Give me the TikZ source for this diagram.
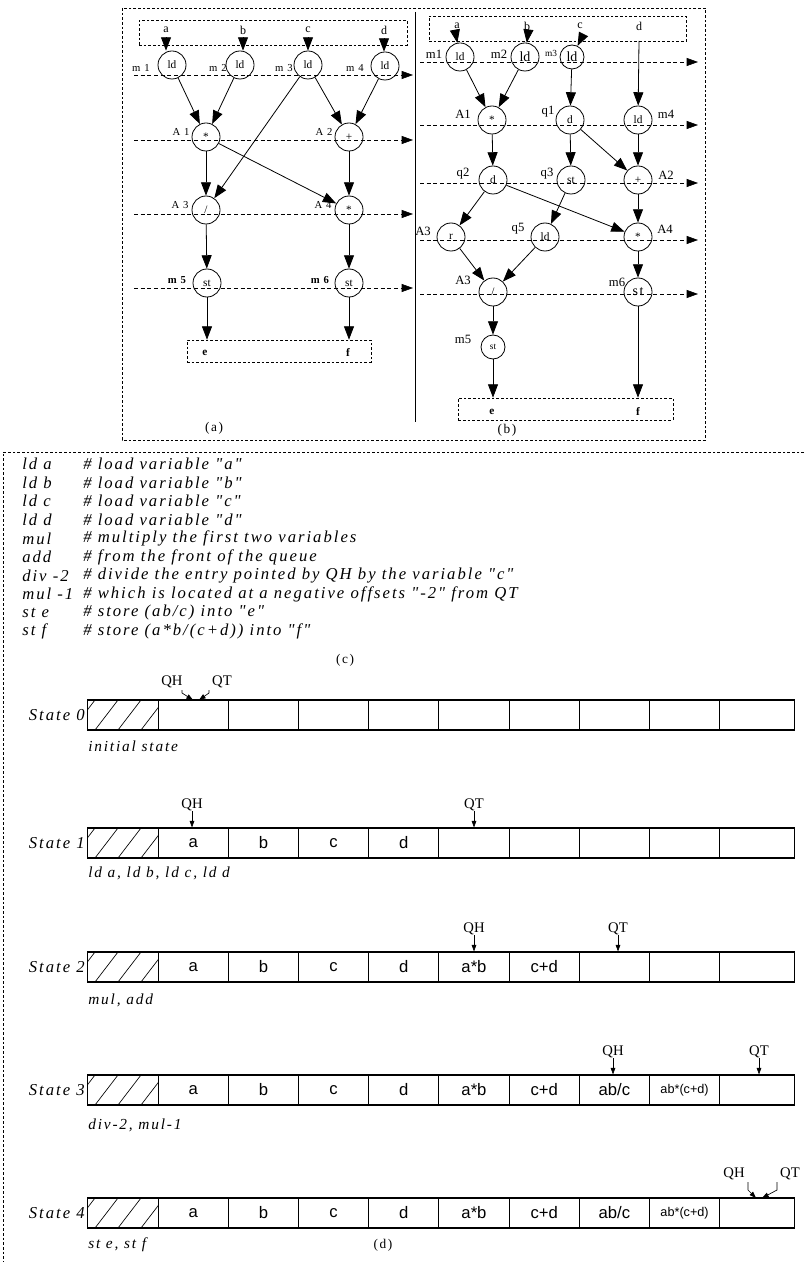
\documentclass[tikz,border=0pt]{standalone}
\usepackage{fontspec}
\setmainfont{Liberation Serif}
\newfontfamily\cellfont{Liberation Sans}
\newfontfamily\spfont[LetterSpace=12]{Liberation Serif}
\usetikzlibrary{arrows.meta}
\newcommand\abcdcell{{\fontsize{9.5}{10}\selectfont ab*(c+d)}}
\begin{document}
\begin{tikzpicture}[x=0.75pt,y=-0.75pt,
  op/.style={circle,draw,minimum size=21pt,inner sep=0pt,line width=0.6pt,font=\fontsize{8.5}{9}\selectfont},
  ops/.style={op,minimum size=18pt},
  lab/.style={inner sep=0pt,font=\spfont\fontsize{8}{9}\selectfont},
  blab/.style={lab,font=\spfont\bfseries\fontsize{8}{9}\selectfont},
  blb/.style={inner sep=0pt,font=\fontsize{9.5}{10}\selectfont},
  inlab/.style={inner sep=0pt,font=\fontsize{9}{10}\selectfont},
  arr/.style={-{Triangle[length=10pt,width=7.5pt]},line width=0.6pt},
  rowline/.style={dash pattern=on 3pt off 2pt,line width=0.5pt,-{Triangle[length=8.5pt,width=6pt]}},
  iobox/.style={draw,dash pattern=on 2pt off 1.5pt,line width=0.5pt},
  frame/.style={dash pattern=on 2pt off 1.5pt,line width=0.5pt},
  figcap/.style={inner sep=0pt,font=\spfont\fontsize{10}{12}\selectfont},
  code/.style={inner sep=0pt,anchor=west,font=\spfont\itshape\fontsize{12.5}{14}\selectfont},
  slab/.style={inner sep=0pt,anchor=east,font=\spfont\itshape\fontsize{12.5}{14}\selectfont},
  note/.style={inner sep=0pt,anchor=west,font=\spfont\itshape\fontsize{11.5}{13}\selectfont},
  cell/.style={draw,line width=0.8pt,minimum width=52.6pt,minimum height=22.5pt,inner sep=0pt,font=\cellfont\fontsize{12.5}{14}\selectfont},
  ptr/.style={inner sep=0pt,font=\fontsize{11}{13}\selectfont},
  parr/.style={-{Triangle[length=5pt,width=3.5pt]},line width=0.5pt}]
\useasboundingbox (0,0) rectangle (804,1262);
% ---------- frames ----------
\draw[frame] (122,8) rectangle (705,440);
\coordinate (dvt) at (415,12);
\coordinate (dvb) at (415,422);
\draw[line width=0.6pt] (dvt) -- (dvb);
\draw[frame] (804,452) -- (3,452) -- (3,1262);
% ---------- (a) ----------
\node[iobox,minimum width=201pt,minimum height=18.75pt] (aIn) at (273,32.5) {};
\node[op] (aM1) at (172,65) {ld};
\node[op] (aM2) at (240,65) {ld};
\node[op] (aM3) at (308,65) {ld};
\node[op] (aM4) at (385,66) {ld};
\foreach \n/\t/\x/\m in {ia/a/166/aM1,ib/b/243/aM2,ic/c/308/aM3,id/d/384/aM4}{
  \node[inlab] (a\n) at (\x,30) {\t};
  \coordinate (a\n s) at (\x,45);
  \draw[arr] (a\n s) -- (a\n s |- \m.north);}
\node[op] (aA1) at (206,137) {*};
\node[op] (aA2) at (349,137) {+};
\node[op] (aA3) at (206,210) {/};
\node[op] (aA4) at (349,210) {*};
\node[op] (aM5) at (207,283) {st};
\node[op] (aM6) at (349,283) {st};
\node[iobox,minimum width=138pt,minimum height=16.5pt] (aOut) at (279,351) {};
\node[inlab,font=\bfseries\fontsize{8.5}{9}\selectfont] (ae) at (205,353) {e};
\node[inlab,font=\bfseries\fontsize{8.5}{9}\selectfont] (af) at (348,353) {f};
\foreach \i/\y in {1/75,2/140,3/214,4/288}{
  \coordinate (aR\i a) at (134,\y); \coordinate (aR\i b) at (413,\y);
  \draw[rowline] (aR\i a) -- (aR\i b);}
\node[lab] (lm1) at (141,68) {m 1};
\node[lab] (lm2) at (218,68) {m 2};
\node[lab] (lm3) at (284,68) {m 3};
\node[lab] (lm4) at (355,68) {m 4};
\node[lab] (lA1) at (181,132) {A 1};
\node[lab] (lA2) at (324,132) {A 2};
\node[lab] (lA3) at (180,205) {A 3};
\node[lab] (lA4) at (323,205) {A 4};
\node[blab] (lm5) at (177,280) {m 5};
\node[blab] (lm6) at (320,280) {m 6};
\draw[arr] (aM1) -- (aA1);
\draw[arr] (aM2) -- (aA1);
\draw[arr] (aM3) -- (aA2);
\draw[arr] (aM4) -- (aA2);
\draw[arr] (aM3) -- (aA3);
\draw[arr] (aA1) -- (aA3);
\draw[arr] (aA1) -- (aA4);
\draw[arr] (aA2) -- (aA4);
\draw[arr] (aA3) -- (aM5);
\draw[arr] (aA4) -- (aM6);
\draw[arr] (aM5) -- (aM5 |- aOut.north);
\draw[arr] (aM6) -- (aM6 |- aOut.north);
\node[figcap] (capa) at (214,428) {(a)};
% ---------- (b) ----------
\node[iobox,minimum width=192.75pt,minimum height=18.75pt] (bIn) at (557.5,28.5) {};
\foreach \n/\t/\x in {ia/a/457,ib/b/527,ic/c/580,id/d/639}{
  \node[inlab] (b\n) at (\x,26) {\t};
  \coordinate (b\n s) at (\x,41);}
\node[op] (bM1) at (460,57) {ld};
\node[op,font=\fontsize{10.5}{11}\selectfont] (bM2) at (525,57) {ld};
\node[ops,font=\fontsize{10.5}{11}\selectfont] (bM3) at (572,57) {ld};
\node[op] (bA1) at (492,120) {*};
\node[op] (bQ1) at (570,120) {d};
\node[op] (bM4) at (638,120) {ld};
\node[op] (bQ2) at (493,180) {d};
\node[op] (bQ3) at (571,180) {st};
\node[op] (bA2) at (638,180) {+};
\node[op] (bA3r) at (451,237) {r};
\node[op] (bQ5) at (545,237) {ld};
\node[op] (bA4) at (638,237) {*};
\node[op] (bA3) at (493,292) {/};
\node[op,font=\spfont\fontsize{10.5}{11}\selectfont] (bM6) at (638,292) {st};
\node[ops,font=\fontsize{7}{8}\selectfont] (bM5) at (493,347) {st};
\node[iobox,minimum width=161pt,minimum height=16.5pt] (bOut) at (565.5,409) {};
\node[inlab,font=\bfseries\fontsize{8.5}{9}\selectfont] (be) at (492,412) {e};
\node[inlab,font=\bfseries\fontsize{8.5}{9}\selectfont] (bf) at (638,412) {f};
\foreach \i/\y in {1/62,2/125,3/183,4/240,5/294}{
  \coordinate (bR\i a) at (420,\y); \coordinate (bR\i b) at (698,\y);
  \draw[rowline] (bR\i a) -- (bR\i b);}
\node[blb] (lbm1) at (434,54) {m1};
\node[blb] (lbm2) at (499,54) {m2};
\node[blb,font=\fontsize{7}{8}\selectfont] (lbm3) at (551,53) {m3};
\node[blb] (lbA1) at (463,114) {A1};
\node[blb] (lbq1) at (548,112) {q1};
\node[blb] (lbm4) at (666,114) {m4};
\node[blb] (lbq2) at (463,174) {q2};
\node[blb] (lbq3) at (547,174) {q3};
\node[blb] (lbA2) at (666,175) {A2};
\node[blb] (lbA3r) at (423,231) {A3};
\node[blb] (lbq5) at (518,229) {q5};
\node[blb] (lbA4) at (665,229) {A4};
\node[blb] (lbA3) at (463,280) {A3};
\node[blb] (lbm6) at (617,282) {m6};
\node[blb] (lbm5) at (463,339) {m5};
\draw[arr] (bias) -- (bM1);
\draw[arr] (bibs) -- (bM2);
\draw[arr] (bics) -- (bM3);
\draw[arr] (bids) -- (bM4);
\draw[arr] (bM1) -- (bA1);
\draw[arr] (bM2) -- (bA1);
\draw[arr] (bM3) -- (bQ1);
\draw[arr] (bA1) -- (bQ2);
\draw[arr] (bQ1) -- (bQ3);
\draw[arr] (bQ1) -- (bA2);
\draw[arr] (bM4) -- (bA2);
\draw[arr] (bQ2) -- (bA3r);
\draw[arr] (bQ2) -- (bA4);
\draw[arr] (bQ3) -- (bQ5);
\draw[arr] (bA2) -- (bA4);
\draw[arr] (bA3r) -- (bA3);
\draw[arr] (bQ5) -- (bA3);
\draw[arr] (bA4) -- (bM6);
\draw[arr] (bA3) -- (bM5);
\draw[arr] (bM5) -- (bM5 |- bOut.north);
\draw[arr] (bM6) -- (bM6 |- bOut.north);
\node[figcap] (capb) at (507,430) {(b)};
% ---------- (c) code ----------
\foreach \i/\op/\cm in {0/ld a/{\# load variable "a"},
  1/ld b/{\# load variable "b"},
  2/ld c/{\# load variable "c"},
  3/ld d/{\# load variable "d"},
  4/mul/{\# multiply the first two variables},
  5/add/{\# from the front of the queue},
  6/div -2/{\# divide the entry pointed by QH by the variable "c"},
  7/mul -1/{\# which is located at a negative offsets "-2" from QT},
  8/st e/{\# store (ab/c) into "e"},
  9/st f/{\# store (a*b/(c+d)) into "f"}}{
  \node[code] (op\i) at (22,464+18.6*\i) {\op};
  \node[code] (cm\i) at (83,464+18.6*\i) {\cm};}
\node[figcap] (capc) at (345,660) {(c)};
% ---------- (d) queue states ----------
\foreach \r/\yt/\lab in {0/700/State 0,1/828/State 1,2/952/State 2,3/1075/State 3,4/1198/State 4}{
  \node[slab] (st\r) at (85,\yt+15) {\lab};
  \node[cell] (s\r-0) at (123,\yt+15) {};
  \begin{scope}
    \clip (88,\yt) rectangle (158,\yt+30);
    \foreach \k in {-1,0,1,2,3}{
      \draw[line width=0.5pt] (95+23*\k,\yt+30) -- (118+23*\k,\yt);}
  \end{scope}
}
\foreach \r/\yc/\list in {0/715/{\relax,\relax,\relax,\relax,\relax,\relax,\relax,\relax,\relax},
  1/843/{a,b,c,d,\relax,\relax,\relax,\relax,\relax},
  2/967/{a,b,c,d,a*b,c+d,\relax,\relax,\relax},
  3/1090/{a,b,c,d,a*b,c+d,ab/c,\abcdcell,\relax},
  4/1213/{a,b,c,d,a*b,c+d,ab/c,\abcdcell,\relax}}{
  \foreach \t [count=\i] in \list{
    \ifnum\i<9
      \node[cell] (s\r-\i) at (123+70.2*\i,\yc) {\t};
    \else
      \node[cell,minimum width=56.1pt] (s\r-\i) at (757.3,\yc) {};
    \fi}
}
\node[note] (n0) at (88,746) {initial state};
\node[note] (n1) at (88,873) {ld a, ld b, ld c, ld d};
\node[note] (n2) at (88,1000) {mul, add};
\node[note] (n3) at (88,1125) {div-2, mul-1};
\node[note] (n4) at (88,1245) {st e, st f};
\node[figcap] (capd) at (383,1245) {(d)};
% pointers
\node[ptr] (qh0) at (172,682) {QH};
\node[ptr] (qt0) at (222,682) {QT};
\coordinate (qh0a) at (182,690);
\coordinate (qt0a) at (209,690);
\draw[parr] (qh0a) -- (182,693) -- (193,700);
\draw[parr] (qt0a) -- (209,693) -- (199,700);
\node[ptr] (qh1) at (192,805) {QH};
\draw[parr] (qh1.south) -- (qh1.south |- s1-1.north);
\node[ptr] (qt1) at (474,805) {QT};
\draw[parr] (qt1.south) -- (qt1.south |- s1-5.north);
\node[ptr] (qh2) at (474,929) {QH};
\draw[parr] (qh2.south) -- (qh2.south |- s2-5.north);
\node[ptr] (qt2) at (618,929) {QT};
\draw[parr] (qt2.south) -- (qt2.south |- s2-7.north);
\node[ptr] (qh3) at (613,1052) {QH};
\draw[parr] (qh3.south) -- (qh3.south |- s3-7.north);
\node[ptr] (qt3) at (759,1052) {QT};
\draw[parr] (qt3.south) -- (qt3.south |- s3-9.north);
\node[ptr] (qh4) at (734,1174) {QH};
\node[ptr] (qt4) at (790,1174) {QT};
\draw[parr] (748,1182) -- (748,1190) -- (756,1198);
\draw[parr] (777,1182) -- (777,1190) -- (762,1198);
\end{tikzpicture}
\end{document}
